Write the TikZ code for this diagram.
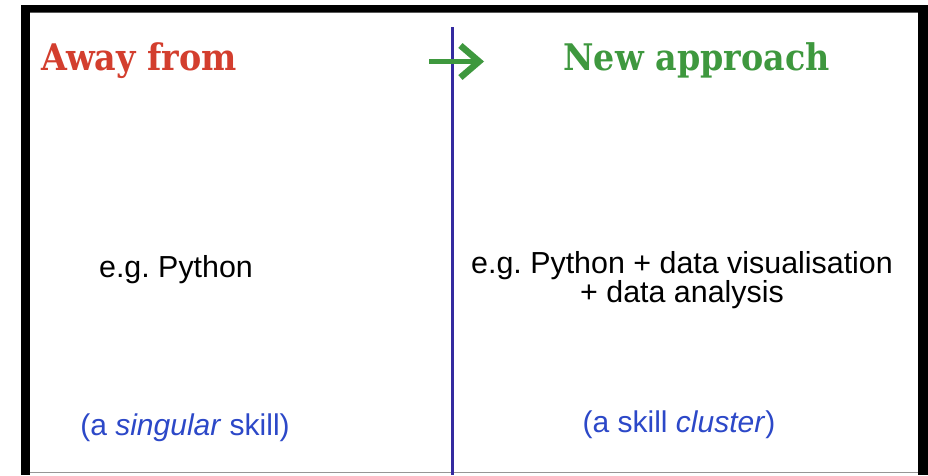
\documentclass[tikz,border=0pt]{standalone}
\usepackage{fontspec}
\setmainfont{Liberation Sans}
\newfontfamily\slabfont{DejaVu Serif}
\usetikzlibrary{arrows.meta}
\frenchspacing

\definecolor{awayred}{RGB}{211,62,46}
\definecolor{newgreen}{RGB}{62,152,62}
\definecolor{noteblue}{RGB}{44,72,200}
\definecolor{splitblue}{RGB}{52,42,160}

\tikzset{every picture/.style={line width=0.75pt}}
\tikzset{
  heading/.style={inner sep=0pt, font=\slabfont\bfseries\fontsize{25}{30}\selectfont},
  example/.style={inner sep=0pt, align=center, font=\fontsize{22.8}{26}\selectfont},
  note/.style={inner sep=0pt, text=noteblue, font=\fontsize{22.5}{26}\selectfont}
}

\begin{document}
\begin{tikzpicture}[x=0.75pt,y=0.75pt,yscale=-1,xscale=1]
\useasboundingbox (0,0) rectangle (928,475);

%Frame
\fill [white] (21,5) rectangle (928,475);
\fill [black, rounded corners=2pt] (21,5) rectangle (928,12.5);
\fill [black] (21,5) rectangle (29.5,475);
\fill [black] (918,5) rectangle (928,475);
\draw [color={rgb, 255:red, 150; green, 150; blue, 150 }, line width=1pt] (29.5,472.5) -- (918,472.5);

%Divider
\coordinate (divtop) at (452.5,27);
\coordinate (divbot) at (452.5,475);
\draw [splitblue, line width=2.2pt] (divtop) -- (divbot);

%Arrow
\coordinate (arrstart) at (429,61.5);
\coordinate (arrend) at (484,61.5);
\draw [newgreen, line width=3.8pt, -{Straight Barb[length=14pt, width=24pt, line width=4.8pt]}] (arrstart) -- (arrend);

% Text Node
\node [heading, text=awayred, anchor=base west] (away) at (41,70) {\scalebox{1}[1.1]{Away from}};
% Text Node
\node [heading, text=newgreen, anchor=base west] (new) at (563,70) {\scalebox{1}[1.1]{New approach}};
% Text Node
\node [example, anchor=base] (egleft) at (176,277) {e.g. Python};
% Text Node
\node [example, anchor=base] (egright) at (682,273) {e.g. Python + data visualisation};
% Text Node
\node [example, anchor=base] (egright2) at (682,302) {+ data analysis};
% Text Node
\node [note, anchor=base] (noteleft) at (185,435) {(a \textit{singular} skill)};
% Text Node
\node [note, anchor=base] (noteright) at (679,432) {(a skill \textit{cluster})};

\end{tikzpicture}
\end{document}
